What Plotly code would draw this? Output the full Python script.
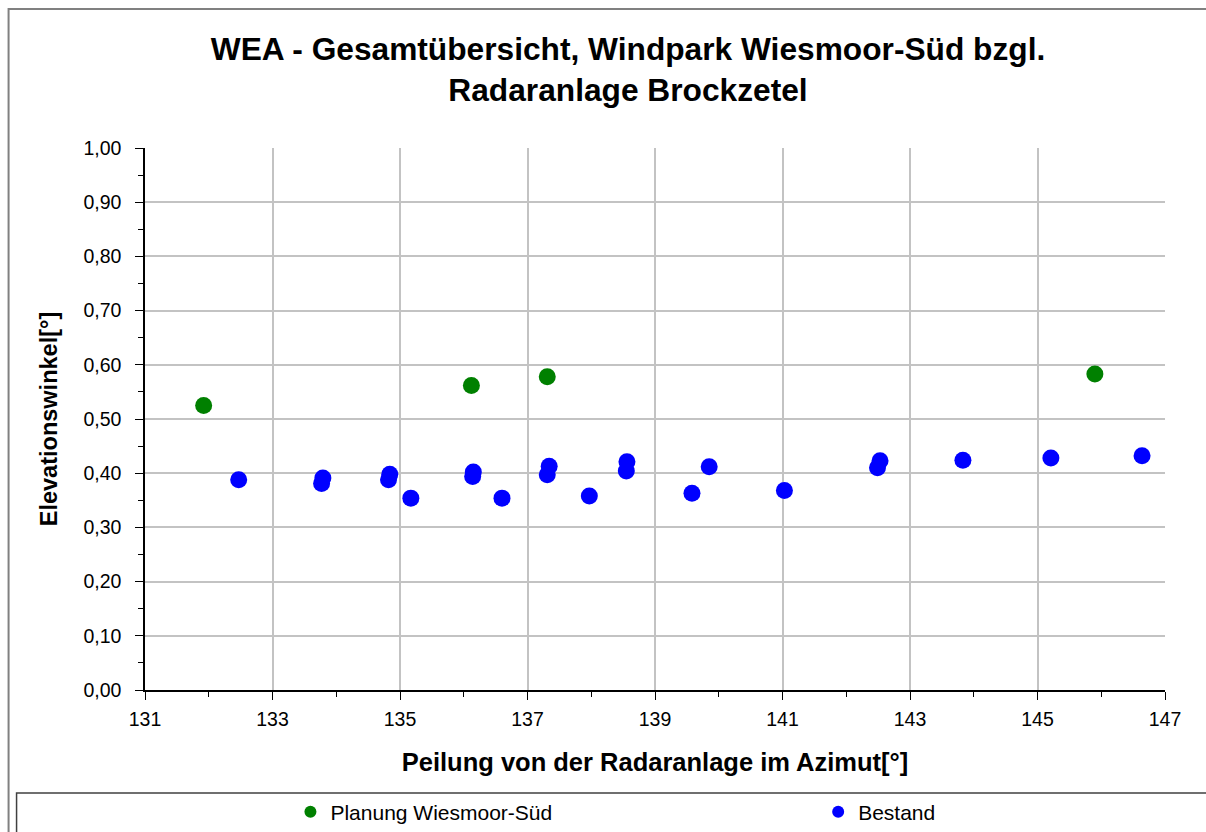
import plotly.graph_objects as go

# Data
planung_az = [131.92, 136.12, 137.31, 145.90]
planung_el = [0.525, 0.562, 0.578, 0.583]

bestand_az = [132.47, 133.79, 133.77, 134.84, 134.82, 135.17, 136.15, 136.14, 136.60,
              137.34, 137.31, 137.97, 138.56, 138.55, 139.58, 139.85, 141.03, 142.53,
              142.49, 143.83, 145.21, 146.64]
bestand_el = [0.388, 0.391, 0.381, 0.398, 0.388, 0.354, 0.402, 0.394, 0.354,
              0.413, 0.397, 0.358, 0.421, 0.404, 0.363, 0.412, 0.368, 0.423,
              0.410, 0.424, 0.428, 0.432]

title_lines = ["WEA - Gesamtübersicht, Windpark Wiesmoor-Süd bzgl.", "Radaranlage Brockzetel"]
x_title = "Peilung von der Radaranlage im Azimut[°]"
y_title = "Elevationswinkel[°]"

W, H = 1206, 832
L, R, T, B = 144.5, 41, 148, 142
pw, ph = W - L - R, H - T - B

def px(x):
    return (x - L) / pw

def py(y):
    return (H - B - y) / ph

FONT = "Liberation Sans, Arial, sans-serif"

fig = go.Figure()
fig.add_trace(go.Scatter(x=planung_az, y=planung_el, mode="markers",
                         name="Planung Wiesmoor-Süd", legend="legend",
                         marker=dict(color="#008000", size=17)))
fig.add_trace(go.Scatter(x=bestand_az, y=bestand_el, mode="markers",
                         name="Bestand", legend="legend2",
                         marker=dict(color="#0000ff", size=17)))

axis_common = dict(
    showline=True, linecolor="#000000", linewidth=1.5,
    showgrid=True, gridcolor="#c3c3c3", gridwidth=1.5,
    zeroline=False, ticks="outside", ticklen=8, tickwidth=1.2, tickcolor="#000000",
    tickfont=dict(family=FONT, size=19.5, color="#000000"),
)

legend_common = dict(orientation="h", xanchor="left", y=py(812), yanchor="middle",
                     itemsizing="constant", bgcolor="rgba(0,0,0,0)",
                     font=dict(family=FONT, size=21, color="#000000"))

fig.update_layout(
    width=W, height=H, autosize=False,
    margin=dict(l=L, r=R, t=T, b=B, autoexpand=False),
    paper_bgcolor="white", plot_bgcolor="white",
    separators=",.",
    font=dict(family=FONT, color="#000000"),
    title=dict(text="<br>".join("<b>" + s + "</b>" for s in title_lines),
               x=628 / W, xref="container", xanchor="center",
               y=1 - 60 / H, yref="container", yanchor="top",
               font=dict(family=FONT, size=31.7, color="#000000")),
    xaxis=dict(range=[131, 147], tick0=131, dtick=2, ticklabelstandoff=3,
               minor=dict(dtick=1, ticks="outside", ticklen=5, tickcolor="#000000", showgrid=False),
               title=dict(text="<b>" + x_title + "</b>", standoff=24,
                          font=dict(family=FONT, size=25.5, color="#000000")),
               **axis_common),
    yaxis=dict(range=[0, 1], dtick=0.1, tickformat=".2f", ticklabelstandoff=10,
               minor=dict(dtick=0.05, ticks="outside", ticklen=5, tickcolor="#000000", showgrid=False),
               title=dict(text="<b>" + y_title + "</b>", standoff=19,
                          font=dict(family=FONT, size=23.5, color="#000000")),
               **axis_common),
    showlegend=True,
    legend=dict(x=px(290), **legend_common),
    legend2=dict(x=px(818), **legend_common),
    shapes=[
        dict(type="rect", xref="paper", yref="paper",
             x0=px(8), x1=px(1215), y0=py(845), y1=py(9),
             line=dict(color="#808080", width=2), fillcolor="rgba(0,0,0,0)", layer="below"),
        dict(type="rect", xref="paper", yref="paper",
             x0=px(16), x1=px(1215), y0=py(845), y1=py(793),
             line=dict(color="#404040", width=1.5), fillcolor="rgba(0,0,0,0)", layer="below"),
    ],
)

fig.write_html("out.html", config={"displayModeBar": False},
               post_script="document.body.style.margin='0';document.body.style.overflow='hidden';")
